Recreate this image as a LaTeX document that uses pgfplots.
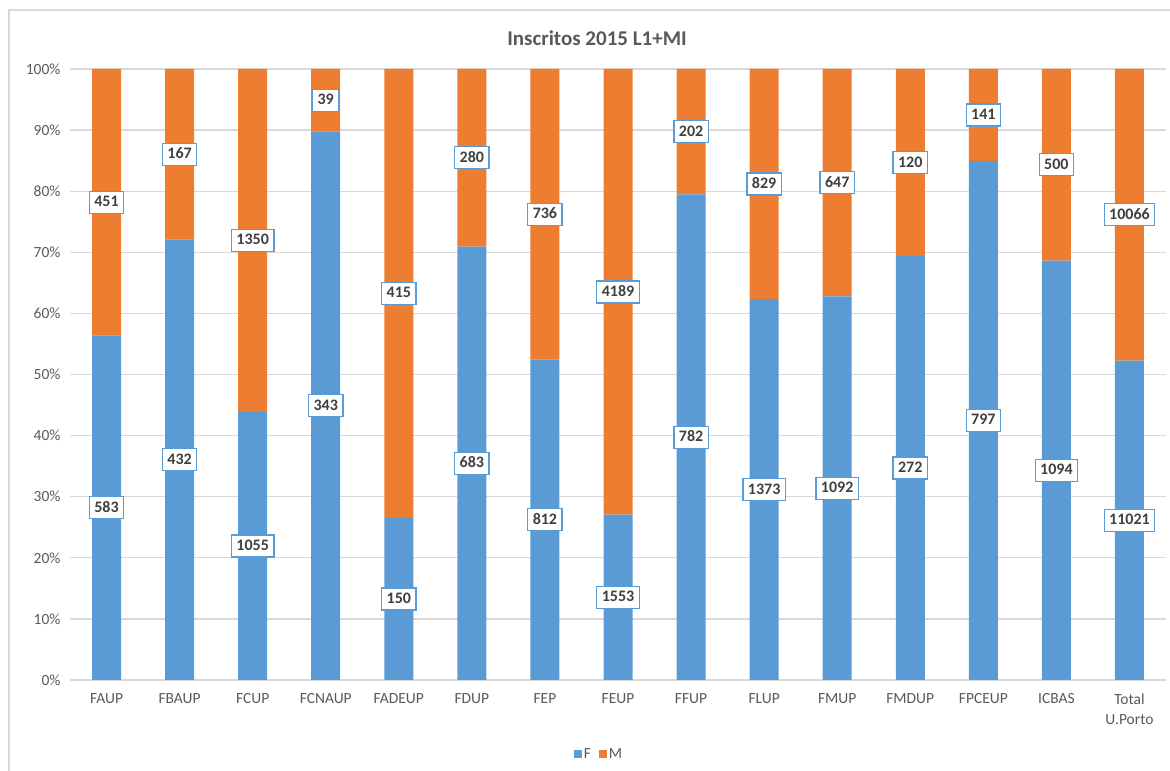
\documentclass[border=0pt]{standalone}
\usepackage{pgfplots}
\pgfplotsset{compat=1.18}
\usepackage{pgfplotstable}
\usepackage{fontspec}
\setmainfont{Carlito}
\definecolor{cF}{HTML}{5B9BD5}
\definecolor{cM}{HTML}{ED7D31}
\definecolor{txt}{HTML}{595959}
\definecolor{lbl}{HTML}{404040}
\definecolor{grd}{HTML}{D9D9D9}
\pgfplotstableread{
x name F M
0 FAUP 583 451
1 FBAUP 432 167
2 FCUP 1055 1350
3 FCNAUP 343 39
4 FADEUP 150 415
5 FDUP 683 280
6 FEP 812 736
7 FEUP 1553 4189
8 FFUP 782 202
9 FLUP 1373 829
10 FMUP 1092 647
11 FMDUP 272 120
12 FPCEUP 797 141
13 ICBAS 1094 500
14 Total 11021 10066
}\data
\pgfplotsset{common/.style={
  at={(0pt,0pt)}, anchor=south west,
  scale only axis, width=1096pt, height=611pt,
  xmin=-0.5, xmax=14.5, ymin=0, ymax=100,
}}
\begin{document}
\begin{tikzpicture}
\begin{axis}[common,
  ybar stacked, bar width=29pt,
  axis line style={draw=none},
  tick style={draw=none},
  ymajorgrids, grid style={grd, line width=1.3pt},
  ytick={0,10,...,100},
  yticklabel={\pgfmathprintnumber{\tick}\%},
  /pgf/number format/assume math mode=true,
  yticklabel style={font=\fontsize{15.5}{18}\selectfont, text=txt, xshift=-6pt},
  xtick={0,...,14},
  xticklabels={FAUP,FBAUP,FCUP,FCNAUP,FADEUP,FDUP,FEP,FEUP,FFUP,FLUP,FMUP,FMDUP,FPCEUP,ICBAS,{Total\\U.Porto}},
  xticklabel style={font=\fontsize{15.5}{20}\selectfont, text=txt, align=center, anchor=north, yshift=-10pt},
  title={Inscritos 2015 L1+MI},
  title style={font=\bfseries\fontsize{21}{24}\selectfont, text=txt, at={(0.5,1)}, anchor=south, yshift=14pt, xshift=-21pt},
  legend style={at={(0.4827,-0.121)}, anchor=center, draw=none, legend columns=2,
    font=\fontsize{15.5}{18}\selectfont, text=txt,
    /tikz/every even column/.append style={column sep=6pt}},
  legend image code/.code={\fill[#1] (0pt,-4pt) rectangle (8pt,4pt);},
]
\addplot[fill=cF, draw=none] table[x=x, y expr=\thisrow{F}/(\thisrow{F}+\thisrow{M})*100]{\data};
\addplot[fill=cM, draw=none] table[x=x, y expr=\thisrow{M}/(\thisrow{F}+\thisrow{M})*100]{\data};
\legend{F,M}
\end{axis}
\begin{axis}[common, hide axis,
  nodes near coords, point meta=explicit symbolic,
  nodes near coords style={anchor=center, fill=white, draw=cF, line width=1.3pt,
    text=lbl, font=\bfseries\fontsize{16}{18}\selectfont, inner xsep=5pt, inner ysep=5pt,
    text height=10.5pt, text depth=1.5pt},
]
\addplot[draw=none, mark=none] table[x=x, y expr=\thisrow{F}/(\thisrow{F}+\thisrow{M})*50, meta=F]{\data};
\addplot[draw=none, mark=none] table[x=x, y expr=50+\thisrow{F}/(\thisrow{F}+\thisrow{M})*50, meta=M]{\data};
\end{axis}
\pgfresetboundingbox
\useasboundingbox (-70pt,-91pt) rectangle (1100pt,680pt);
\draw[grd, line width=1.3pt] (-61pt,-100pt) -- (-61pt,670pt) -- (1110pt,670pt);
\end{tikzpicture}
\end{document}
